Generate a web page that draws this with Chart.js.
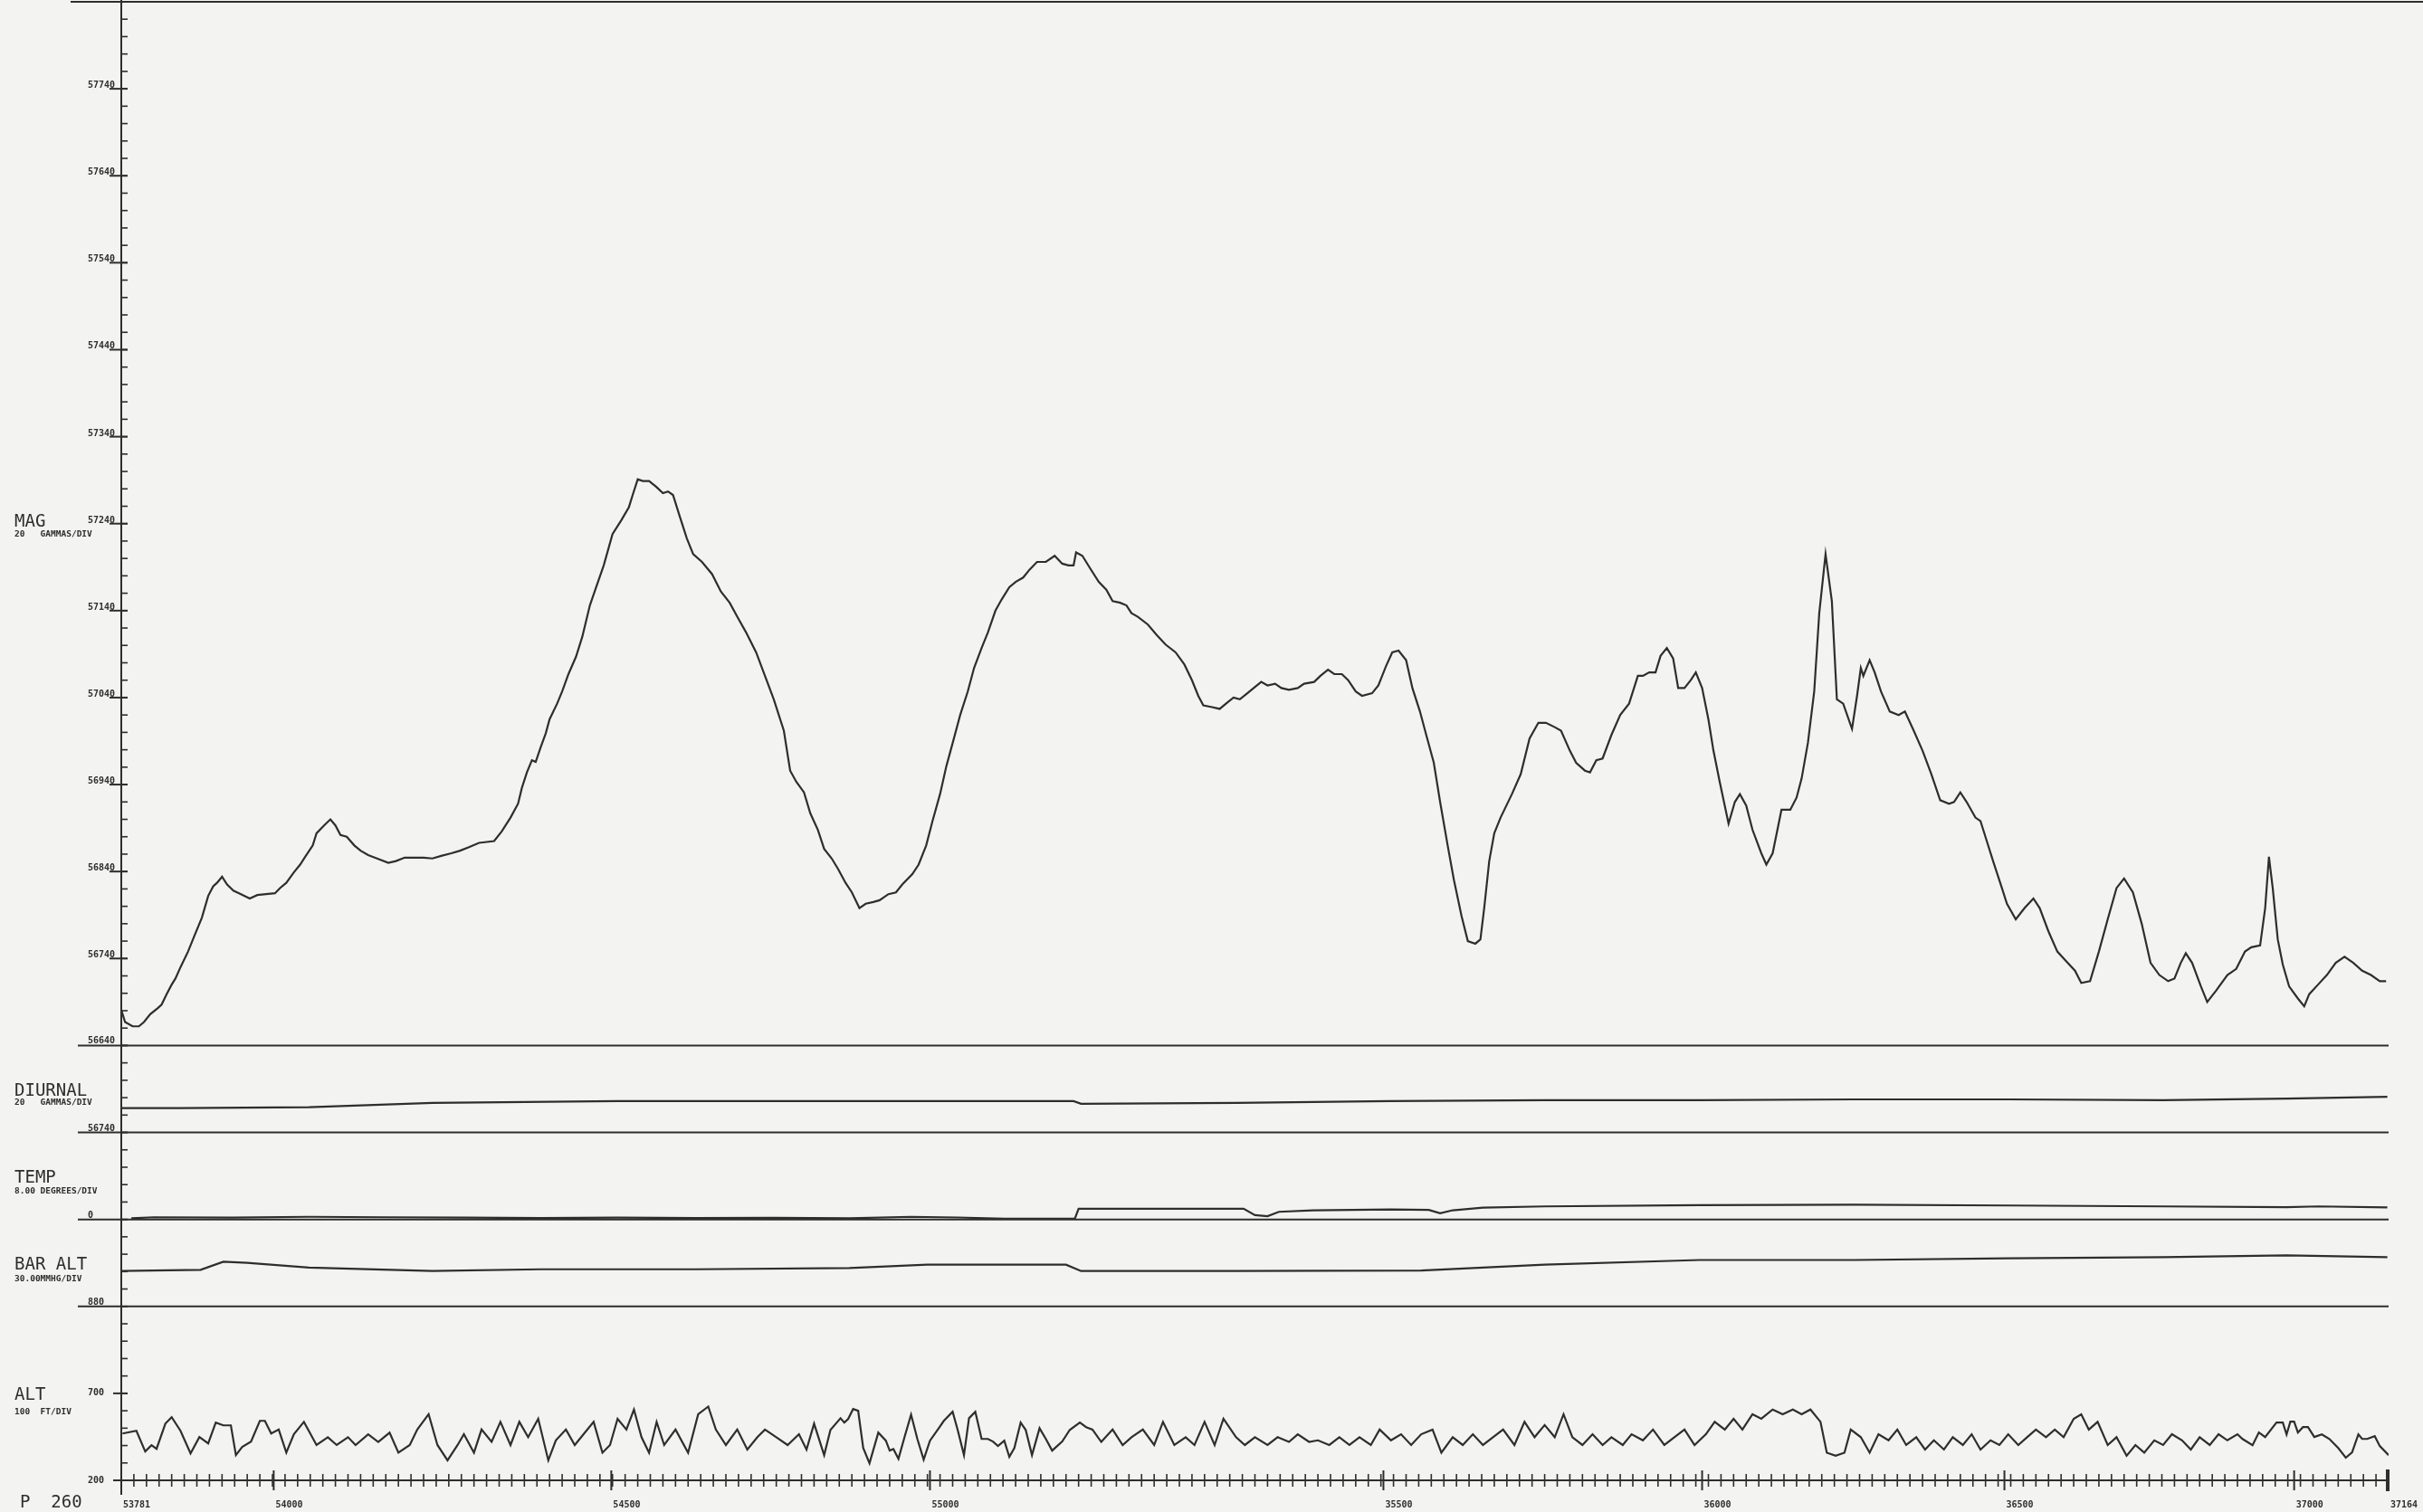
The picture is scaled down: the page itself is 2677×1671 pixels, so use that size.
<!DOCTYPE html>
<html>
<head>
<meta charset="utf-8">
<title>Profile P 260</title>
<script src="https://cdn.jsdelivr.net/npm/chart.js@4/dist/chart.umd.min.js"></script>
<style>
    html, body { margin: 0; padding: 0; background: #f3f3f1; }
    #wrap { width: 2677px; height: 1671px; }
</style>
</head>
<body>
<div id="wrap"><canvas id="profile" width="2677" height="1671"></canvas></div>
<script>
(function() {
    'use strict';

    // Fiducial numbers printed under the flight line, and where they fall (tick units)
    const fidLabels = ['53781', '54000', '54500', '55000', '35500', '36000', '36500', '37000', '37164'];
    const fidDist = [0, 12.1, 38.9, 64.2, 100.2, 125.5, 149.5, 172.5, 180];

    // Total field (gammas)
    const magDist = [
        0.0, 0.3, 0.9, 1.4, 1.8, 2.3, 2.9, 3.2, 3.6, 4.0, 4.3, 4.7, 5.3, 5.8, 6.4, 6.9, 7.3, 7.6, 8.0, 8.4,
        8.9, 9.5, 10.2, 10.8, 11.5, 12.2, 12.6, 13.1, 13.7, 14.2, 14.6, 15.2, 15.5, 16.1, 16.6, 17.0, 17.4, 17.9, 18.5, 19.0,
        19.6, 20.3, 21.2, 21.8, 22.5, 24.0, 24.7, 25.4, 26.2, 26.9, 27.6, 28.4, 29.6, 30.2, 30.9, 31.5, 31.8, 32.2, 32.6, 32.9,
        33.3, 33.7, 34.0, 34.6, 35.0, 35.5, 36.1, 36.6, 37.2, 37.7, 38.3, 39.0, 39.7, 40.3, 40.6, 41.0, 41.4, 41.9, 42.5, 43.0,
        43.4, 43.8, 44.3, 44.9, 45.4, 46.1, 46.9, 47.6, 48.3, 48.9, 49.6, 50.4, 51.1, 51.8, 52.6, 53.1,
        53.6, 54.2, 54.7, 55.3, 55.8, 56.4, 56.9, 57.5, 58.0, 58.6, 59.1, 59.7, 60.2, 60.9, 61.5, 62.0, 62.8, 63.3, 63.9, 64.4,
        65.0, 65.5, 66.1, 66.6, 67.2, 67.7, 68.3, 68.8, 69.4, 69.9, 70.5, 71.0, 71.6, 72.1, 72.7, 73.4, 74.1, 74.7, 75.2, 75.6,
        75.8, 76.3, 76.9, 77.6, 78.2, 78.7, 79.3, 79.8, 80.2, 80.7, 81.5, 82.2, 82.9, 83.7, 84.4, 85.0, 85.5, 85.9, 86.6, 87.2,
        87.7, 88.3, 88.8, 89.4, 89.9, 90.5, 91.0, 91.6, 92.1, 92.7, 93.4, 93.9, 94.7, 95.2, 95.8, 96.3, 96.9, 97.4, 98.0, 98.5,
        99.3, 99.8, 100.4, 100.9, 101.4, 102.0, 102.5, 103.1, 103.6, 104.2, 104.7, 105.3, 105.8, 106.4, 106.9, 107.5, 107.9, 108.2, 108.6, 109.0,
        109.5, 110.4, 111.1, 111.8, 112.5, 113.1, 113.8, 114.3, 115.0, 115.5, 116.2, 116.6, 117.1, 117.6, 118.3, 119.0, 119.7, 120.4, 120.8, 121.3,
        121.8, 122.2, 122.7, 123.2, 123.6, 124.1, 124.6, 125.0, 125.5, 126.0, 126.4, 126.9, 127.6, 128.1, 128.5, 129.0, 129.5, 130.2, 130.6, 131.1,
        131.8, 132.5, 133.0, 133.4, 133.9, 134.4, 134.8, 135.3, 135.8, 136.2, 136.7, 137.4, 137.8, 138.1, 138.3, 138.8, 139.2, 139.7, 140.4, 141.1,
        141.6, 142.3, 143.0, 143.7, 144.4, 145.1, 145.5, 146.0, 146.5, 147.2, 147.6, 148.1, 148.6, 149.3, 149.7, 150.4, 151.1, 151.8, 152.3, 153.0,
        153.7, 154.4, 155.1, 155.6, 156.3, 157.0, 157.7, 158.4, 159.0, 159.7, 160.4, 161.1, 161.8, 162.5, 163.0, 163.5, 163.9, 164.4, 165.1, 165.6,
        166.3, 167.2, 167.9, 168.6, 169.1, 169.8, 170.2, 170.5, 170.8, 171.2, 171.6, 172.1, 172.8, 173.3, 173.7, 174.4, 175.1, 175.8, 176.5, 177.2,
        177.9, 178.6, 179.3, 179.8
    ];
    const magGamma = [
        56681, 56667, 56662, 56662, 56667, 56676, 56683, 56687, 56699, 56710, 56717, 56730, 56748, 56766, 56787, 56812, 56823, 56827, 56834, 56825,
        56818, 56814, 56809, 56813, 56814, 56815, 56821, 56827, 56839, 56848, 56857, 56870, 56884, 56893, 56900, 56893, 56882, 56880, 56870, 56864,
        56859, 56855, 56850, 56852, 56856, 56856, 56855, 56858, 56861, 56864, 56868, 56873, 56875, 56886, 56902, 56918, 56936, 56954, 56968, 56966,
        56983, 56999, 57015, 57033, 57047, 57067, 57087, 57110, 57146, 57167, 57192, 57228, 57244, 57259, 57273, 57291, 57289, 57289, 57282, 57275,
        57277, 57273, 57250, 57223, 57205, 57196, 57182, 57162, 57149, 57133, 57115, 57092, 57065, 57038, 57002, 56956,
        56943, 56931, 56907, 56888, 56866, 56855, 56843, 56827, 56816, 56798, 56803, 56805, 56807, 56814, 56816, 56825, 56837, 56848, 56870, 56898,
        56929, 56961, 56993, 57020, 57047, 57074, 57097, 57115, 57140, 57153, 57167, 57173, 57178, 57187, 57196, 57196, 57203, 57194, 57192, 57192,
        57207, 57203, 57189, 57173, 57164, 57151, 57149, 57146, 57137, 57133, 57124, 57112, 57101, 57092, 57078, 57060, 57042, 57031, 57029, 57027,
        57033, 57040, 57038, 57045, 57051, 57058, 57054, 57056, 57051, 57049, 57051, 57056, 57058, 57065, 57072, 57067, 57067, 57060, 57047, 57042,
        57045, 57054, 57076, 57092, 57094, 57083, 57051, 57024, 56997, 56965, 56920, 56870, 56830, 56789, 56760, 56757, 56762, 56798, 56852, 56884,
        56902, 56929, 56952, 56993, 57011, 57011, 57006, 57002, 56979, 56965, 56956, 56954, 56968, 56970, 56997, 57020, 57033, 57065, 57065, 57069,
        57069, 57088, 57097, 57085, 57051, 57051, 57060, 57069, 57051, 57015, 56979, 56943, 56895, 56920, 56929, 56916, 56888, 56861, 56848, 56861,
        56911, 56911, 56925, 56947, 56988, 57047, 57137, 57205, 57151, 57038, 57033, 57004, 57042, 57074, 57065, 57083, 57069, 57047, 57024, 57020,
        57024, 57002, 56979, 56952, 56922, 56918, 56920, 56931, 56920, 56902, 56898, 56875, 56852, 56821, 56803, 56785, 56798, 56809, 56798, 56771,
        56748, 56737, 56726, 56712, 56714, 56748, 56785, 56821, 56832, 56816, 56780, 56735, 56721, 56714, 56717, 56735, 56746, 56735, 56708, 56690,
        56703, 56721, 56728, 56748, 56753, 56755, 56798, 56857, 56821, 56762, 56733, 56708, 56694, 56685, 56699, 56710, 56721, 56735, 56742, 56735,
        56726, 56721, 56714, 56714
    ];

    // Diurnal base station (gammas)
    const diurnalDist = [0, 4.7, 14.9, 24.7, 39.4, 64.0, 75.6, 76.2, 88.5, 100.7, 113.0, 125.3, 137.5, 149.8, 162.1, 171.9, 179.9];
    const diurnalGamma = [56768, 56768, 56769, 56774, 56776, 56776, 56776, 56773, 56774, 56776, 56777, 56777, 56778, 56778, 56777, 56779, 56781];

    // Outside temperature (degrees)
    const tempDist = [0.8, 2.6, 8.8, 14.9, 21.0, 27.2, 33.3, 39.4, 45.6, 51.7, 57.8, 62.7, 66.4, 70.1, 75.7, 76.0, 82.4, 89.1, 90.0, 91.0,
        91.9, 94.6, 100.8, 103.8, 104.7, 105.7, 108.1, 113.0, 125.3, 137.6, 149.8, 162.1, 171.9, 174.4, 179.9];
    const tempDeg = [0.5, 1.0, 0.8, 1.2, 1.0, 0.8, 0.6, 0.8, 0.6, 0.7, 0.5, 1.2, 0.9, 0.3, 0.3, 4.9, 4.9, 4.9, 2.0, 1.5,
        3.5, 4.2, 4.6, 4.4, 2.8, 4.2, 5.4, 6.0, 6.6, 6.8, 6.4, 6.0, 5.6, 6.0, 5.5];

    // Barometric altitude
    const barDist = [0, 6.3, 8.1, 10.0, 14.9, 24.7, 33.3, 45.6, 57.8, 64.0, 75.0, 76.2, 88.5, 103.2, 113.0, 125.3, 137.6, 149.8, 162.1, 171.9, 179.9];
    const barValue = [941, 943, 957, 955, 947, 941, 944, 944, 946, 952, 952, 941, 941, 942, 952, 960, 960, 963, 965, 968, 965];

    // Radar altitude (feet)
    const altDist = [
        0.1, 1.2, 1.9, 2.4, 2.8, 3.5, 4.0, 4.7, 5.5, 6.2, 6.9, 7.5, 8.1, 8.7, 9.1, 9.6, 10.3, 11.0, 11.4, 11.9,
        12.5, 13.1, 13.7, 14.5, 15.5, 16.4, 17.1, 18.0, 18.6, 19.6, 20.4, 21.3, 22.0, 22.9, 23.5, 24.4, 25.1, 25.9, 26.7, 27.2,
        28.0, 28.6, 29.4, 30.1, 30.9, 31.6, 32.3, 33.1, 33.9, 34.5, 35.3, 36.0, 36.7, 37.5, 38.2, 38.8, 39.4, 40.1, 40.7, 41.3,
        41.9, 42.5, 43.1, 44.0, 45.0, 45.8, 46.6, 47.2, 48.0, 48.9, 49.7, 50.5, 51.1, 52.0, 52.9, 53.8, 54.4,
        55.0, 55.8, 56.3, 57.1, 57.4, 57.7, 58.1, 58.5, 58.9, 59.4, 60.1, 60.7, 61.0, 61.3, 61.7, 62.2, 62.7, 63.2, 63.7, 64.2,
        64.9, 65.3, 66.0, 66.4, 66.9, 67.3, 67.8, 68.3, 68.8, 69.2, 69.6, 70.1, 70.5, 70.9, 71.4, 71.8, 72.3, 72.9, 73.4, 73.9,
        74.7, 75.3, 76.1, 76.6,
        77.1, 77.8, 78.7, 79.5, 80.2, 81.1, 82.0, 82.7, 83.6, 84.5, 85.2, 86.0, 86.8, 87.5, 88.5, 89.2, 90.0, 91.0, 91.8, 92.7,
        93.4, 94.3, 95.0, 95.9, 96.7, 97.5, 98.3, 99.2, 99.9, 100.8, 101.6, 102.4, 103.2, 104.1, 104.8, 105.7, 106.5, 107.3, 108.1, 108.9,
        109.7, 110.6, 111.4, 112.2, 113.0, 113.8, 114.5, 115.2, 116.0, 116.8, 117.6, 118.3, 119.2, 119.9, 120.8, 121.6, 122.5, 123.3, 124.1, 124.9,
        125.8, 126.5, 127.3, 128.0, 128.7, 129.5, 130.2, 131.1, 131.9, 132.7, 133.4, 134.1, 134.9, 135.4, 136.1, 136.8, 137.3, 138.1, 138.8, 139.5,
        140.3, 141.0, 141.7, 142.5, 143.2, 143.9, 144.7, 145.4, 146.2, 146.9, 147.6, 148.4, 149.1, 149.8, 150.6, 151.3, 152.0, 152.8, 153.5, 154.2,
        155.0, 155.6, 156.2, 156.9, 157.7, 158.4, 159.2, 159.9, 160.6, 161.4, 162.1, 162.8, 163.6, 164.3, 165.0, 165.8, 166.5, 167.2, 168.0,
        168.4, 169.2, 169.7, 170.2, 171.1, 171.6, 171.9, 172.2, 172.5, 172.8, 173.2, 173.6, 174.1, 174.7, 175.3, 176.0, 176.6, 177.1, 177.6, 177.9,
        178.3, 178.9, 179.3, 180.0
    ];
    const altFeet = [
        469, 485, 366, 402, 381, 526, 563, 485, 355, 449, 412, 532, 516, 516, 345, 392, 423, 542, 542, 469,
        492, 359, 465, 536, 403, 448, 403, 448, 403, 465, 421, 474, 359, 403, 492, 580, 403, 315, 403, 465,
        359, 492, 421, 536, 403, 536, 448, 554, 315, 430, 492, 403, 465, 536, 359, 403, 554, 492, 607, 448,
        359, 536, 403, 492, 359, 580, 624, 492, 403, 492, 377, 448, 492, 448, 403, 465, 377,
        526, 345, 490, 557, 532, 552, 610, 600, 386, 298, 475, 428, 371, 380, 324, 454, 578, 438, 319, 428,
        500, 542, 594, 490, 345, 557, 594, 438, 438, 423, 397, 428, 335, 386, 532, 490, 345, 500, 438, 371,
        423, 490, 532, 506,
        492, 421, 492, 403, 448, 492, 403, 536, 403, 448, 403, 536, 403, 554, 448, 403, 448, 403, 448, 421,
        465, 421, 430, 403, 448, 403, 448, 403, 492, 430, 465, 403, 465, 492, 359, 448, 403, 465, 403, 448,
        492, 403, 536, 448, 518, 448, 580, 448, 403, 465, 403, 448, 403, 465, 430, 492, 403, 448, 492, 403,
        465, 536, 492, 554, 492, 580, 554, 607, 580, 607, 580, 607, 536, 359, 341, 359, 492, 448, 359, 465,
        430, 492, 403, 448, 377, 430, 377, 448, 403, 465, 377, 430, 403, 465, 403, 448, 492, 448, 492, 448,
        554, 580, 492, 536, 403, 448, 341, 403, 359, 430, 403, 465, 430, 377, 448, 403, 465, 430, 465,
        438, 402, 475, 449, 532, 532, 464, 537, 537, 475, 506, 506, 449, 464, 438, 386, 330, 361, 464, 438,
        438, 454, 397, 345
    ];

    // Labelled ticks on the left axis
    const magTickValues = [57740, 57640, 57540, 57440, 57340, 57240, 57140, 57040, 56940, 56840, 56740];
    const altTickValues = [700, 200];

    const panelNames = ['MAG', 'DIURNAL', 'TEMP', 'BAR ALT', 'ALT'];
    const panelUnits = ['20   GAMMAS/DIV', '20   GAMMAS/DIV', '8.00 DEGREES/DIV', '30.00MMHG/DIV', '100  FT/DIV'];
    const panelBaseLabels = ['56640', '56740', '0', '880', '200'];

    const INK = '#2e2e2e';
    const PAPER = '#f3f3f1';
    const MONO = '"DejaVu Sans Mono", "Liberation Mono", monospace';

    function pairs(xs, ys) {
        return xs.map(function(x, i) { return { x: x, y: ys[i] }; });
    }

    // Scales are laid out by Chart.js but drawn by the plotter plugin below
    function flatten(scale) {
        if (scale.isHorizontal()) {
            scale.height = 0;
        } else {
            scale.width = 0;
        }
    }

    function panelScale(min, max, weight) {
        return {
            type: 'linear',
            position: 'left',
            stack: 'panels',
            stackWeight: weight,
            min: min,
            max: max,
            offset: false,
            grid: { display: false, drawTicks: false },
            border: { display: false },
            ticks: { display: false },
            afterFit: flatten
        };
    }

    // panel id, tick step, title baseline (absolute for MAG, else offset from panel top)
    const panels = [
        { id: 'yMag', step: 20, titleY: 582, unitY: 593 },
        { id: 'yDiurnal', step: 20, titleOff: 56, unitOff: 66 },
        { id: 'yTemp', step: 8, titleOff: 55, unitOff: 67 },
        { id: 'yBar', step: 30, titleOff: 55, unitOff: 68 },
        { id: 'yAlt', step: 100, titleOff: 103, unitOff: 119 }
    ];

    function line(ctx, x1, y1, x2, y2) {
        ctx.beginPath();
        ctx.moveTo(x1, y1);
        ctx.lineTo(x2, y2);
        ctx.stroke();
    }

    const plotter = {
        id: 'plotter',
        beforeDraw: function(chart) {
            const ctx = chart.ctx;
            ctx.save();
            ctx.fillStyle = PAPER;
            ctx.fillRect(0, 0, chart.width, chart.height);
            ctx.restore();
        },
        afterDraw: function(chart) {
            const ctx = chart.ctx;
            const area = chart.chartArea;
            const xs = chart.scales.x;
            const axisX = area.left;
            const right = xs.getPixelForValue(180);

            ctx.save();
            ctx.strokeStyle = INK;
            ctx.fillStyle = INK;
            ctx.lineWidth = 2;

            // frame line across the top and the left axis
            line(ctx, 78, 2, chart.width, 2);
            line(ctx, axisX, 0, axisX, area.bottom + 16);

            panels.forEach(function(p, idx) {
                const s = chart.scales[p.id];
                const baseY = s.getPixelForValue(s.min);

                // panel baseline
                if (p.id === 'yAlt') {
                    line(ctx, 125, baseY, right, baseY);
                } else {
                    line(ctx, 86, baseY, right, baseY);
                }

                // small ticks inside the axis
                ctx.lineWidth = 1.6;
                for (let v = s.min; v <= s.max + 0.001; v += p.step) {
                    const y = s.getPixelForValue(v);
                    line(ctx, axisX, y, axisX + 7, y);
                }
                ctx.lineWidth = 2;

                // base value label sitting on the line
                ctx.font = 'bold 10px ' + MONO;
                ctx.textAlign = 'left';
                if (p.id === 'yAlt') {
                    ctx.textBaseline = 'middle';
                    ctx.fillText(panelBaseLabels[idx], 97, baseY);
                } else {
                    ctx.textBaseline = 'alphabetic';
                    ctx.fillText(panelBaseLabels[idx], 97, baseY - 2);
                }

                // titles
                const titleY = p.titleY !== undefined ? p.titleY : s.top + p.titleOff;
                const unitY = p.unitY !== undefined ? p.unitY : s.top + p.unitOff;
                ctx.textBaseline = 'alphabetic';
                ctx.font = '19px ' + MONO;
                ctx.fillText(panelNames[idx], 16, titleY);
                ctx.font = 'bold 9.5px ' + MONO;
                ctx.fillText(panelUnits[idx], 16, unitY);
            });

            // labelled MAG ticks
            const mag = chart.scales.yMag;
            ctx.font = 'bold 10px ' + MONO;
            ctx.textBaseline = 'alphabetic';
            magTickValues.forEach(function(v) {
                const y = mag.getPixelForValue(v);
                ctx.fillText(String(v), 97, y - 1);
                line(ctx, 121, y, axisX + 7, y);
            });

            // labelled ALT ticks
            const alt = chart.scales.yAlt;
            ctx.textBaseline = 'middle';
            altTickValues.forEach(function(v) {
                const y = alt.getPixelForValue(v);
                if (v !== alt.min) {
                    ctx.fillText(String(v), 97, y);
                }
                line(ctx, 125, y, axisX + 7, y);
            });

            // fiducial ticks along the bottom
            const y0 = area.bottom;
            ctx.lineWidth = 1.6;
            for (let i = 0; i <= 180; i++) {
                const x = xs.getPixelForValue(i);
                line(ctx, x, y0 - 7, x, y0 + 7);
            }
            ctx.lineWidth = 2;
            ctx.textBaseline = 'alphabetic';
            fidDist.forEach(function(d, i) {
                const x = xs.getPixelForValue(d);
                line(ctx, x, y0 - 11, x, y0 + 11);
                if (i === fidDist.length - 1) {
                    ctx.lineWidth = 4;
                    line(ctx, x - 1, y0 - 12, x - 1, y0 + 12);
                    ctx.lineWidth = 2;
                }
                ctx.fillText(fidLabels[i], x + 2, 1666);
            });

            // line number
            ctx.font = '19px ' + MONO;
            ctx.fillText('P  260', 22, 1666);

            ctx.restore();
        }
    };

    const lineStyle = {
        borderColor: INK,
        borderWidth: 2.2,
        pointRadius: 0,
        tension: 0,
        fill: false
    };

    const scales = {
        x: {
            type: 'linear',
            position: 'bottom',
            min: 0,
            max: 180,
            grid: { display: false, drawTicks: false },
            border: { display: false },
            ticks: { display: false },
            afterFit: flatten
        },
        // defined bottom-up: the last left scale ends up on top of the stack
        yAlt: panelScale(200, 1200, 10),
        yBar: panelScale(880, 1030, 5),
        yTemp: panelScale(0, 40, 5),
        yDiurnal: panelScale(56740, 56840, 5),
        yMag: panelScale(56640, 57840, 60)
    };

    new Chart(document.getElementById('profile').getContext('2d'), {
        type: 'line',
        data: {
            datasets: [
                Object.assign({ label: 'MAG', data: pairs(magDist, magGamma), yAxisID: 'yMag' }, lineStyle),
                Object.assign({ label: 'DIURNAL', data: pairs(diurnalDist, diurnalGamma), yAxisID: 'yDiurnal' }, lineStyle),
                Object.assign({ label: 'TEMP', data: pairs(tempDist, tempDeg), yAxisID: 'yTemp' }, lineStyle),
                Object.assign({ label: 'BAR ALT', data: pairs(barDist, barValue), yAxisID: 'yBar' }, lineStyle),
                Object.assign({ label: 'ALT', data: pairs(altDist, altFeet), yAxisID: 'yAlt' }, lineStyle)
            ]
        },
        options: {
            responsive: false,
            animation: false,
            devicePixelRatio: 1,
            layout: {
                padding: { left: 134, right: 38, top: 2, bottom: 35 }
            },
            plugins: {
                legend: { display: false },
                tooltip: { enabled: false }
            },
            scales: scales
        },
        plugins: [plotter]
    });
})();
</script>
</body>
</html>
